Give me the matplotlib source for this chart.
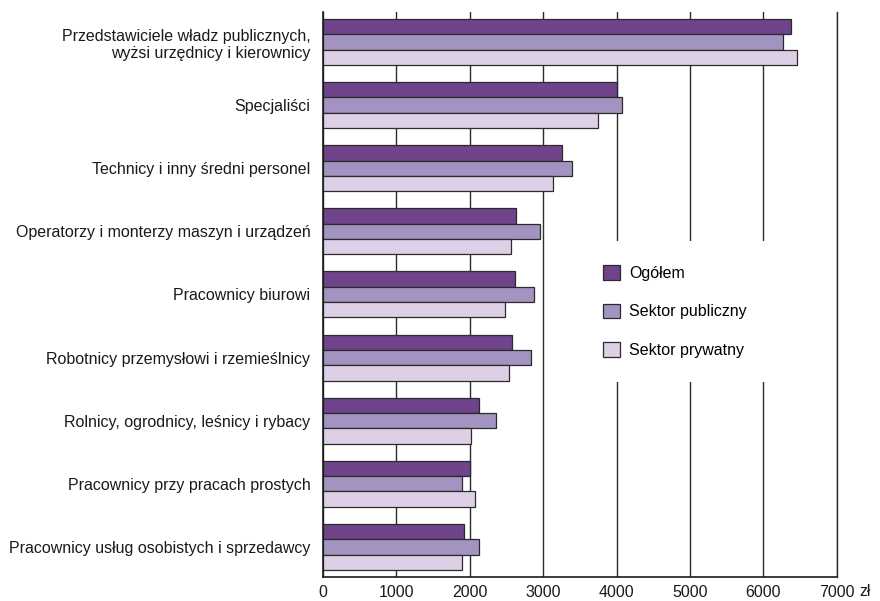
import matplotlib
matplotlib.use('Agg')
import matplotlib.pyplot as plt
import numpy as np

plt.rcParams['font.family'] = ['Liberation Sans', 'DejaVu Sans']

# categories (top to bottom)
categories = [
    'Przedstawiciele władz publicznych,\nwyżsi urzędnicy i kierownicy',
    'Specjaliści',
    'Technicy i inny średni personel',
    'Operatorzy i monterzy maszyn i urządzeń',
    'Pracownicy biurowi',
    'Robotnicy przemysłowi i rzemieślnicy',
    'Rolnicy, ogrodnicy, leśnicy i rybacy',
    'Pracownicy przy pracach prostych',
    'Pracownicy usług osobistych i sprzedawcy',
]
ogolem = [6380, 4000, 3250, 2630, 2620, 2570, 2120, 2000, 1920]
publiczny = [6270, 4070, 3390, 2950, 2880, 2830, 2360, 1900, 2120]
prywatny = [6460, 3740, 3130, 2560, 2480, 2540, 2020, 2070, 1890]
series_names = ['Ogółem', 'Sektor publiczny', 'Sektor prywatny']
colors = ['#6f448b', '#a393c0', '#dccfe6']
xticks = [0, 1000, 2000, 3000, 4000, 5000, 6000, 7000]

fig = plt.figure(figsize=(8.8, 6.01), dpi=100)
ax = fig.add_axes([0.367, 0.040, 0.584, 0.940])

y = np.arange(len(categories))
h = 0.243
for i, (vals, name, c) in enumerate(zip([ogolem, publiczny, prywatny], series_names, colors)):
    ax.barh(y + (i - 1) * h, vals, height=h, color=c, edgecolor='#2b2b2b',
            linewidth=0.9, label=name, zorder=3)

ax.set_xlim(0, 7000)
ax.set_ylim(8.476, -0.476)
ax.set_xticks(xticks)
ax.set_xticklabels([str(t) for t in xticks], fontsize=11.5)
ax.set_yticks(y)
ax.set_yticklabels(categories, fontsize=11.5, linespacing=1.2)
ax.tick_params(axis='both', length=0, colors='#1a1a1a')
ax.tick_params(axis='y', pad=9)
ax.tick_params(axis='x', pad=6)
ax.xaxis.grid(True, color='#2b2b2b', linewidth=1.0, zorder=0)
ax.set_axisbelow(True)
ax.spines['top'].set_visible(False)
ax.spines['right'].set_color('#2b2b2b')
ax.spines['right'].set_linewidth(1.0)
ax.spines['right'].set_zorder(0)
for s in ['left', 'bottom']:
    ax.spines[s].set_color('#1a1a1a')
    ax.spines[s].set_linewidth(1.2)
    ax.spines[s].set_zorder(4)

# unit after the last tick label
ax.text(1.043, -0.013, 'zł', transform=ax.transAxes, fontsize=11.5,
        va='top', ha='left', color='#1a1a1a')

leg = ax.legend(loc='center left', bbox_to_anchor=(0.498, 0.47), frameon=True,
                fontsize=11.5, handlelength=1.05, handleheight=1.05,
                labelspacing=1.4, handletextpad=0.6, borderpad=1.5,
                borderaxespad=0)
leg.get_frame().set_edgecolor('none')
leg.get_frame().set_facecolor('white')
leg.get_frame().set_alpha(1)
leg.set_zorder(5)

fig.savefig('out.png', dpi=100)
